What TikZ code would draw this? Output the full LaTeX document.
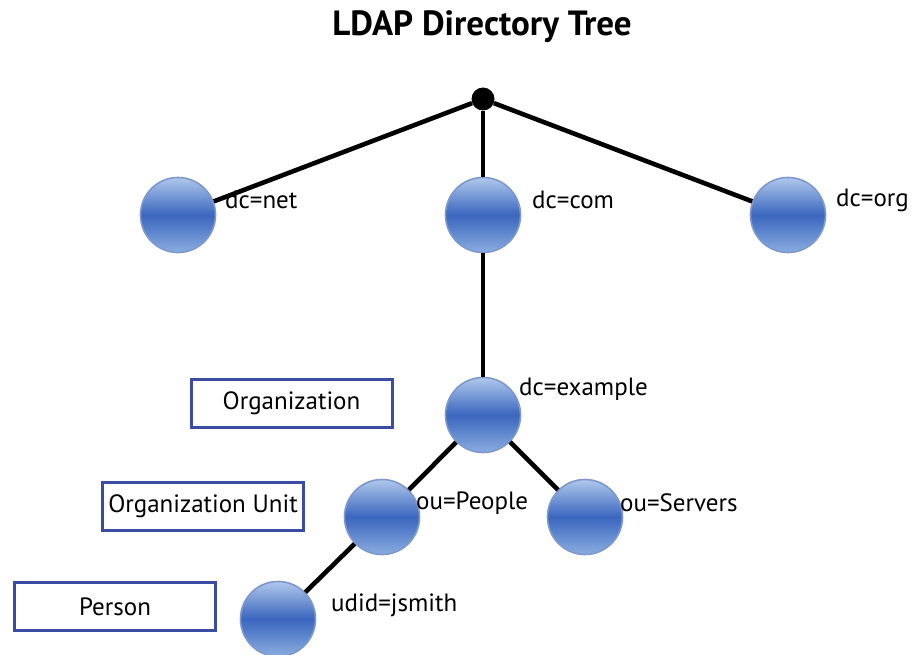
\documentclass[tikz,border=0pt]{standalone}
\usepackage{fontspec}
\setmainfont{PT Sans}
\begin{document}
\begin{tikzpicture}[x=1pt,y=-1pt,
  sphere/.style={circle,minimum size=75pt,inner sep=0pt,draw=sphereedge,line width=1.6pt,
    top color=spheretop,bottom color=spherebot,middle color=spheremid,shading angle=0},
  lbl/.style={anchor=west,inner sep=0pt,font=\fontsize{25}{30}\selectfont},
  catbox/.style={draw=boxblue,line width=3pt,minimum width=201pt,minimum height=48pt,inner sep=0pt,font=\fontsize{25}{30}\selectfont},
  conn/.style={line width=4.6pt,black},
  rootdot/.style={circle,fill=black,minimum size=23pt,inner sep=0pt}]
\definecolor{spheretop}{HTML}{B0C8EC}
\definecolor{spheremid}{HTML}{3A66BE}
\definecolor{spherebot}{HTML}{8AADE0}
\definecolor{sphereedge}{HTML}{7E98CE}
\definecolor{boxblue}{HTML}{3A4DA3}
\useasboundingbox[fill=white] (0,0) rectangle (917,655);
\node[font=\fontsize{35}{40}\selectfont\bfseries] (title) at (482,27) {LDAP Directory Tree};
\node[rootdot] (root) at (483,99) {};
\node[sphere] (net) at (178,215) {};
\node[sphere] (com) at (483,215) {};
\node[sphere] (org) at (788,215) {};
\node[sphere] (example) at (483,415) {};
\node[sphere] (people) at (382,517) {};
\node[sphere] (servers) at (585,517) {};
\node[sphere] (jsmith) at (278,619) {};
\draw[conn] (root) -- (net);
\draw[conn] (root) -- (com);
\draw[conn] (root) -- (org);
\draw[conn] (com) -- (example);
\draw[conn] (example) -- (people);
\draw[conn] (example) -- (servers);
\draw[conn] (people) -- (jsmith);
\node[lbl] (lnet) at (225,200) {dc=net};
\node[lbl] (lcom) at (532,200) {dc=com};
\node[lbl] (lorg) at (836,200) {dc=org};
\node[lbl] (lexample) at (519,389) {dc=example};
\node[lbl] (lpeople) at (416,503) {ou=People};
\node[lbl] (lservers) at (620,503) {ou=Servers};
\node[lbl] (ljsmith) at (331,605) {udid=jsmith};
\node[catbox] (borg) at (291.5,403) {Organization};
\node[catbox] (bou) at (203,506.5) {Organization Unit};
\node[catbox] (bperson) at (115,606.5) {Person};
\end{tikzpicture}
\end{document}
